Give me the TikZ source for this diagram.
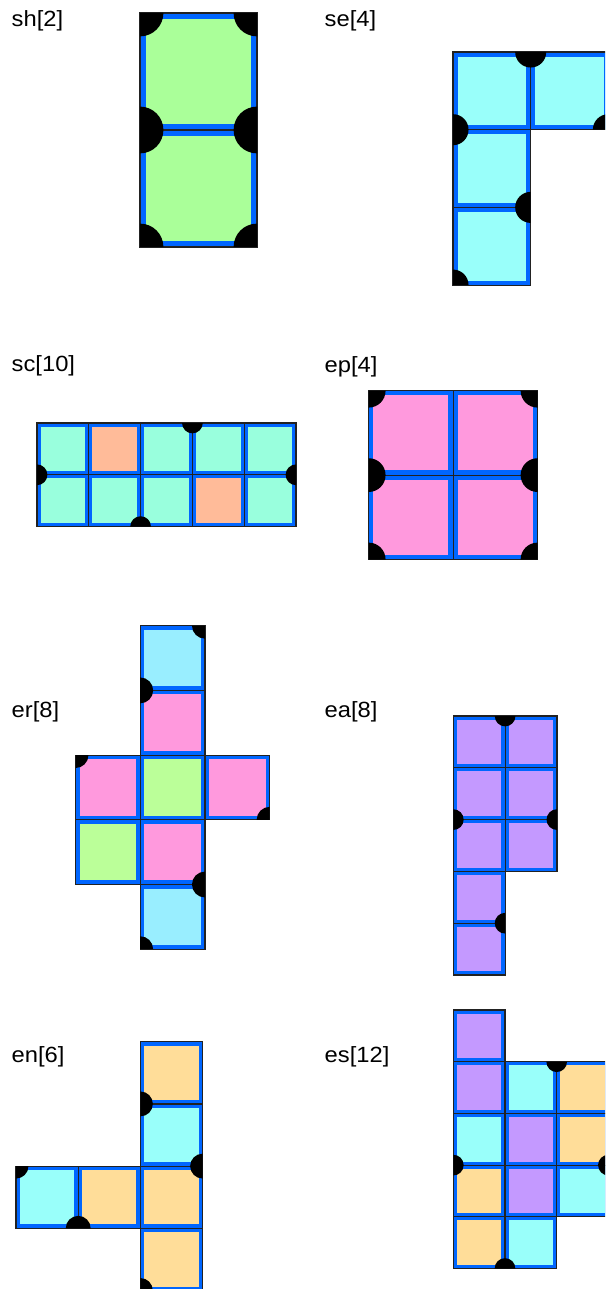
\documentclass[tikz,border=0pt]{standalone}
\usepackage{fontspec}
\setmainfont{Liberation Sans}
\definecolor{tileblue}{HTML}{0066FF}
\definecolor{tileedge}{HTML}{222222}
\definecolor{grn}{HTML}{AAFF99}
\definecolor{grnb}{HTML}{BBFF99}
\definecolor{cyn}{HTML}{99FFFA}
\definecolor{cynb}{HTML}{99EEFF}
\definecolor{mint}{HTML}{99FFDD}
\definecolor{salm}{HTML}{FFBB99}
\definecolor{pnk}{HTML}{FF99DD}
\definecolor{purp}{HTML}{C499FF}
\definecolor{orng}{HTML}{FFDD99}
\newcommand\tile[6]{%
  \pgfmathsetmacro\tx{#1+#4*#3}%
  \pgfmathsetmacro\ty{#2+#5*#3}%
  \pgfmathsetmacro\bw{1.2+0.035*#3}%
  \pgfmathsetmacro\ins{0.5*\bw+0.6}%
  \fill[#6] (\tx,\ty) rectangle ++(#3,#3);
  \draw[tileblue,line width=\bw pt] (\tx+\ins,\ty+\ins) rectangle (\tx+#3-\ins,\ty+#3-\ins);
  \draw[tileedge,line width=1.2pt] (\tx,\ty) rectangle ++(#3,#3);
}
\newcommand\drawpanel[5]{%
  \foreach \c/\r/\k in {#4} {\tile{#1}{#2}{#3}{\c}{\r}{\k}}
  \begin{scope}
    \clip \foreach \c/\r/\k in {#4} {(#1+\c*#3,#2+\r*#3) rectangle ++(#3,#3)};
    \foreach \c/\r in {#5} {\fill[black] (#1+\c*#3,#2+\r*#3) circle[radius=0.2*#3];}
  \end{scope}
}
\newcommand\lbltext[1]{\scalebox{1.08}[1]{#1}}
\begin{document}
\begin{tikzpicture}[x=1pt,y=-1pt,
  lbl/.style={anchor=base west,inner sep=0pt,font=\fontsize{22}{26}\selectfont}]
\useasboundingbox (0,0) rectangle (605,1289);
\clip (0,0) rectangle (605,1289);
% labels
\node[lbl] (lsh) at (11.5,26.5) {\lbltext{sh[2]}};
\node[lbl] (lse) at (324.5,26.5) {\lbltext{se[4]}};
\node[lbl] (lsc) at (11.5,371) {\lbltext{sc[10]}};
\node[lbl] (lep) at (324.5,372) {\lbltext{ep[4]}};
\node[lbl] (ler) at (11.5,717) {\lbltext{er[8]}};
\node[lbl] (lea) at (324.5,717) {\lbltext{ea[8]}};
\node[lbl] (len) at (11.5,1062) {\lbltext{en[6]}};
\node[lbl] (les) at (324.5,1062) {\lbltext{es[12]}};
% sh
\drawpanel{140}{13}{117}{0/0/grn,0/1/grn}{0/0,1/0,0/1,1/1,0/2,1/2}
% se
\drawpanel{453}{52}{77.7}{0/0/cyn,1/0/cyn,0/1/cyn,0/2/cyn}{1/0,0/1,2/1,1/2,0/3}
% sc
\drawpanel{37}{423}{51.8}{0/0/mint,1/0/salm,2/0/mint,3/0/mint,4/0/mint,0/1/mint,1/1/mint,2/1/mint,3/1/salm,4/1/mint}{0/1,3/0,2/2,5/1}
% ep
\drawpanel{368.7}{390.7}{84.4}{0/0/pnk,1/0/pnk,0/1/pnk,1/1/pnk}{0/0,2/0,0/1,2/1,0/2,2/2}
% er
\drawpanel{75.5}{625.7}{64.7}{1/0/cynb,1/1/pnk,0/2/pnk,1/2/grnb,2/2/pnk,0/3/grnb,1/3/pnk,1/4/cynb}{2/0,1/1,0/2,3/3,2/4,1/5}
% ea
\drawpanel{453.3}{716}{51.8}{0/0/purp,1/0/purp,0/1/purp,1/1/purp,0/2/purp,1/2/purp,0/3/purp,0/4/purp}{1/0,0/2,2/2,1/4}
% en
\drawpanel{16}{1041.7}{62.2}{2/0/orng,2/1/cyn,2/2/orng,2/3/orng,0/2/cyn,1/2/orng}{2/1,3/2,0/2,1/3,2/4}
% es
\drawpanel{453.3}{1010}{51.7}{0/0/purp,0/1/purp,1/1/cyn,2/1/orng,0/2/cyn,1/2/purp,2/2/orng,0/3/orng,1/3/purp,2/3/cyn,0/4/orng,1/4/cyn}{2/1,0/3,3/3,1/5}
\end{tikzpicture}
\end{document}
